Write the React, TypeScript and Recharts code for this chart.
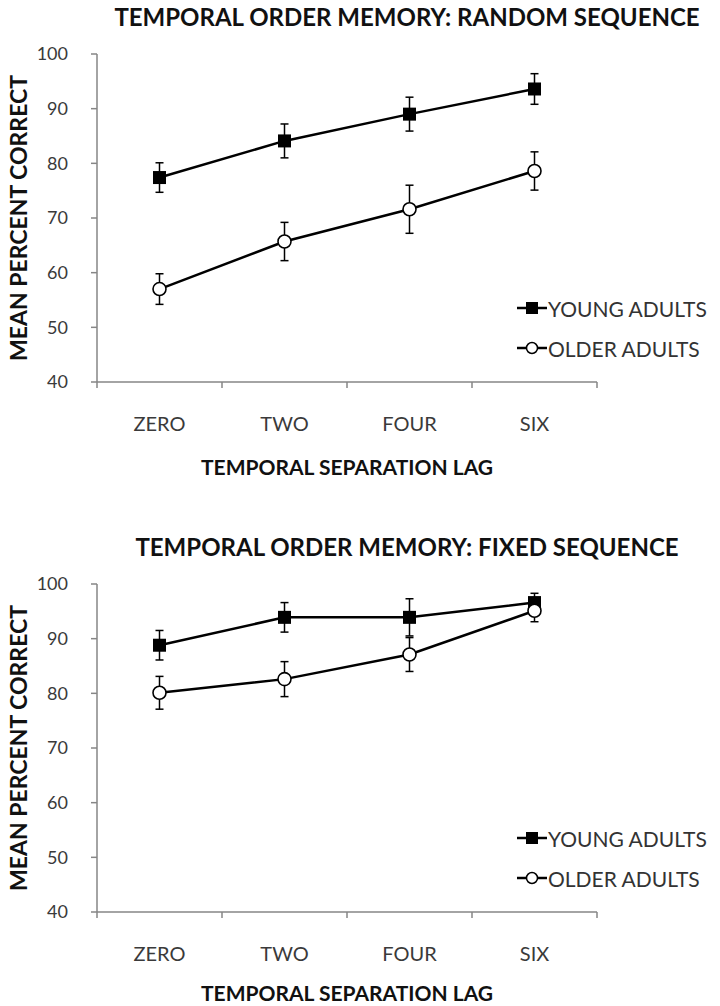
import { LineChart, Line, XAxis, YAxis, ErrorBar, Label } from 'recharts';

const lags = ['ZERO', 'TWO', 'FOUR', 'SIX'];
const yTicks = [40, 50, 60, 70, 80, 90, 100];

// random sequence panel
const randomYoung = [77.4, 84.1, 89.0, 93.6];
const randomYoungErr = [2.7, 3.1, 3.1, 2.8];
const randomOlder = [57.0, 65.7, 71.6, 78.6];
const randomOlderErr = [2.8, 3.5, 4.4, 3.5];

// fixed sequence panel
const fixedYoung = [88.8, 93.9, 93.9, 96.6];
const fixedYoungErr = [2.7, 2.7, 3.4, 1.7];
const fixedOlder = [80.1, 82.6, 87.1, 95.1];
const fixedOlderErr = [3.0, 3.2, 3.1, 2.0];

const W = 720;
const LEFT = 97;
const RIGHT = 123;
const PLOT_W = W - LEFT - RIGHT;
const HALF = PLOT_W / lags.length / 2;
const AXIS = '#868686';
const TICK_TEXT = '#3a3a3a';
const FONT = 'Lato, "Open Sans", sans-serif';

function buildRows(young: number[], youngErr: number[], older: number[], olderErr: number[]) {
  return lags.map((lag, i) => ({
    lag,
    young: young[i],
    youngErr: youngErr[i],
    older: older[i],
    olderErr: olderErr[i],
  }));
}

function SquareDot(props: any) {
  const { cx, cy, index } = props;
  return <rect key={`sq-${index}`} x={cx - 6.5} y={cy - 6.5} width={13} height={13} fill="#000" />;
}

function CircleDot(props: any) {
  const { cx, cy, index } = props;
  return <circle key={`ci-${index}`} cx={cx} cy={cy} r={6.5} fill="#fff" stroke="#000" strokeWidth={1.6} />;
}

function LagTick(props: any) {
  const { x, y, payload, index } = props;
  return (
    <g>
      <line x1={x - HALF} y1={y} x2={x - HALF} y2={y + 6} stroke={AXIS} strokeWidth={1.5} />
      {index === lags.length - 1 && (
        <line x1={x + HALF} y1={y} x2={x + HALF} y2={y + 6} stroke={AXIS} strokeWidth={1.5} />
      )}
      <text x={x} y={y + 41} textAnchor="middle" dominantBaseline="central" fontSize={20} fill={TICK_TEXT} fontFamily={FONT}>
        {payload.value}
      </text>
    </g>
  );
}

function LegendBox() {
  const item = (label: string, square: boolean) => (
    <div style={{ display: 'flex', alignItems: 'center', height: 40 }}>
      <svg width={30} height={16}>
        <line x1={0} y1={8} x2={30} y2={8} stroke="#000" strokeWidth={2.5} />
        {square ? (
          <rect x={9} y={2} width={12} height={12} fill="#000" />
        ) : (
          <circle cx={15} cy={8} r={5.5} fill="#fff" stroke="#000" strokeWidth={1.5} />
        )}
      </svg>
      <span style={{ fontSize: 21, color: '#333', marginLeft: 1, fontFamily: FONT }}>{label}</span>
    </div>
  );
  return (
    <div style={{ position: 'absolute', left: 517, top: 288, width: 200 }}>
      {item('YOUNG ADULTS', true)}
      {item('OLDER ADULTS', false)}
    </div>
  );
}

function Panel({ title, top, height, labelGap, rows }: { title: string; top: number; height: number; labelGap: number; rows: any[] }) {
  return (
    <div style={{ position: 'absolute', left: 0, top, width: W, height }}>
      <div
        style={{
          position: 'absolute',
          left: 107,
          width: 600,
          top: 2,
          textAlign: 'center',
          fontSize: 24,
          lineHeight: '30px',
          fontWeight: 700,
          color: '#111',
          fontFamily: FONT,
          whiteSpace: 'nowrap',
        }}
      >
        {title}
      </div>
      <LineChart width={W} height={height} data={rows} margin={{ top: 54, right: RIGHT, bottom: height - 382 - 90, left: 0 }}>
        <XAxis
          dataKey="lag"
          height={90}
          padding={{ left: HALF, right: HALF }}
          axisLine={{ stroke: AXIS, strokeWidth: 1.5 }}
          tickLine={false}
          tickSize={0}
          tickMargin={0}
          tick={<LagTick />}
          interval={0}
        >
          <Label
            content={(p: any) => (
              <text
                x={p.viewBox.x + p.viewBox.width / 2}
                y={p.viewBox.y + labelGap}
                textAnchor="middle"
                dominantBaseline="central"
                fontSize={21}
                fontWeight={700}
                fill="#111"
                fontFamily={FONT}
              >
                TEMPORAL SEPARATION LAG
              </text>
            )}
          />
        </XAxis>
        <YAxis
          width={LEFT}
          domain={[40, 100]}
          ticks={yTicks}
          interval={0}
          axisLine={{ stroke: AXIS, strokeWidth: 1.5 }}
          tickLine={{ stroke: AXIS, strokeWidth: 1.5 }}
          tickSize={6}
          tickMargin={23}
          tick={{ fontSize: 18, fill: TICK_TEXT, fontFamily: FONT }}
        >
          <Label
            content={(p: any) => (
              <text
                transform={`translate(18, ${p.viewBox.y + p.viewBox.height / 2}) rotate(-90)`}
                textAnchor="middle"
                dominantBaseline="central"
                fontSize={23}
                fontWeight={700}
                fill="#111"
                fontFamily={FONT}
              >
                MEAN PERCENT CORRECT
              </text>
            )}
          />
        </YAxis>
        <Line
          dataKey="young"
          stroke="#000"
          strokeWidth={2.5}
          dot={SquareDot}
          activeDot={false}
          isAnimationActive={false}
        >
          <ErrorBar dataKey="youngErr" direction="y" width={4} stroke="#000" strokeWidth={1.5} isAnimationActive={false} />
        </Line>
        <Line
          dataKey="older"
          stroke="#000"
          strokeWidth={2.5}
          dot={CircleDot}
          activeDot={false}
          isAnimationActive={false}
        >
          <ErrorBar dataKey="olderErr" direction="y" width={4} stroke="#000" strokeWidth={1.5} isAnimationActive={false} />
        </Line>
      </LineChart>
      <LegendBox />
    </div>
  );
}

export default function App() {
  return (
    <div
      style={{
        position: 'absolute',
        left: 0,
        top: 0,
        width: W,
        height: 1006,
        overflow: 'hidden',
        background: '#fff',
        fontFamily: FONT,
      }}
    >
      <Panel
        title="TEMPORAL ORDER MEMORY: RANDOM SEQUENCE"
        top={0}
        height={500}
        labelGap={84}
        rows={buildRows(randomYoung, randomYoungErr, randomOlder, randomOlderErr)}
      />
      <Panel
        title="TEMPORAL ORDER MEMORY: FIXED SEQUENCE"
        top={530}
        height={476}
        labelGap={80}
        rows={buildRows(fixedYoung, fixedYoungErr, fixedOlder, fixedOlderErr)}
      />
    </div>
  );
}
